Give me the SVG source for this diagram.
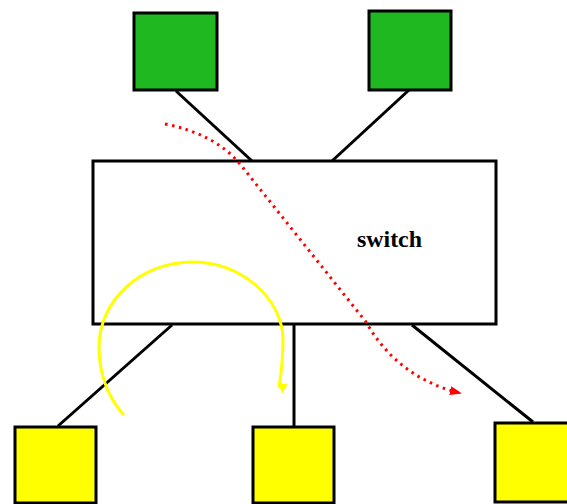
<svg xmlns="http://www.w3.org/2000/svg" width="567" height="504" viewBox="0 0 567 504">
<style>
.box{stroke:#000;stroke-width:3}
.green{fill:#20b820}
.yellow{fill:#ffff00}
.link{stroke:#000;stroke-width:3;fill:none}
.lbl{font-family:"Liberation Serif",serif;font-weight:bold;font-size:24px;fill:#000}
</style>
<defs>
<marker id="redArrow" markerWidth="12" markerHeight="9" refX="10" refY="4.5" orient="auto" markerUnits="userSpaceOnUse">
<path d="M0,0 L12,4.5 L0,9 Z" fill="#ff0000"/>
</marker>
<marker id="yellowArrow" markerWidth="10" markerHeight="10" refX="5" refY="8" orient="auto" markerUnits="userSpaceOnUse">
<path d="M0,0 L10,4 L0,10 Z" fill="#ffff00"/>
</marker>
</defs>
<rect width="567" height="504" fill="#fff"/>
<g id="connectors">
<line class="link" x1="176" y1="91" x2="252" y2="161"/>
<line class="link" x1="409" y1="90" x2="332" y2="161"/>
<line class="link" x1="172" y1="325" x2="58" y2="426"/>
<line class="link" x1="294" y1="325" x2="294" y2="427"/>
<line class="link" x1="412" y1="325" x2="533" y2="422"/>
</g>
<g id="switch">
<rect class="box" x="93" y="161" width="403" height="163" fill="#fff"/>
<text class="lbl" x="357" y="247" textLength="65" lengthAdjust="spacingAndGlyphs">switch</text>
</g>
<g id="host-green-1"><rect class="box green" x="134" y="13" width="83" height="77"/></g>
<g id="host-green-2"><rect class="box green" x="369" y="11" width="82" height="79"/></g>
<g id="host-yellow-1"><rect class="box yellow" x="15" y="427" width="81" height="76"/></g>
<g id="host-yellow-2"><rect class="box yellow" x="253" y="427" width="81" height="76"/></g>
<g id="host-yellow-3"><rect class="box yellow" x="495" y="423" width="90" height="79"/></g>
<g id="flows">
<path d="M165,124 Q215,134 240,164 L366,322 Q398,378 460,393" fill="none" stroke="#ff0000" stroke-width="3" stroke-dasharray="2.5 4.5" marker-end="url(#redArrow)"/>
<path d="M124,415 C106,396 99,370 99,347 C99,300 141,262 192,262 C243,262 283,300 283,340 C283,360 281,375 279,388" fill="none" stroke="#ffff00" stroke-width="3" marker-end="url(#yellowArrow)"/>
</g>
</svg>
